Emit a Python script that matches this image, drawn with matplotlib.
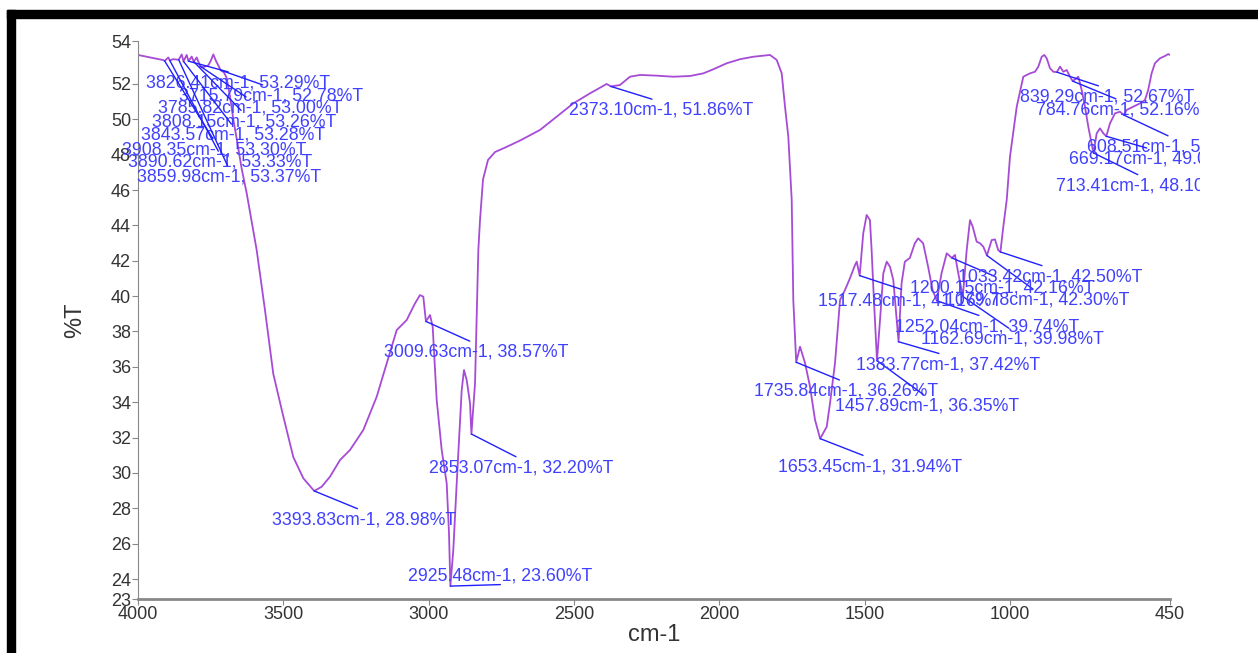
import matplotlib
matplotlib.use("Agg")
import matplotlib.pyplot as plt
from matplotlib.patches import Rectangle
from matplotlib.transforms import Bbox, TransformedBbox, IdentityTransform

plt.rcParams['font.family'] = ['Liberation Sans', 'DejaVu Sans']

# FTIR spectrum (wavenumber cm-1, %T)
wavenumber = [4000, 3958.7, 3913, 3908.35, 3895.8, 3890.62, 3880, 3866.9, 3859.98, 3849.7,
              3843.57, 3832.5, 3826.41, 3815.3, 3808.15, 3798.1, 3785.82, 3775.4, 3758.2, 3749.9,
              3740.9, 3731.7, 3723.8, 3715.79, 3704.2, 3695.1, 3683.5, 3672.2, 3658.4, 3643.3,
              3626.1, 3591.7, 3563.1, 3534.6, 3500.2, 3465.8, 3431.4, 3393.83, 3368.1, 3339.5,
              3305.1, 3270.7, 3224.9, 3178.9, 3144.5, 3110.1, 3075.7, 3047.1, 3030, 3018.6,
              3009.63, 2995.5, 2986.3, 2972.5, 2955.3, 2938.1, 2930.2, 2925.48, 2915.4, 2903.7,
              2886.5, 2878.6, 2869.3, 2857.9, 2853.07, 2840.6, 2834.8, 2829.3, 2823.5, 2813.2,
              2796, 2771.9, 2737.5, 2685.9, 2617.1, 2559.7, 2502.6, 2445.1, 2387.7, 2373.10,
              2342.1, 2307.6, 2273.1, 2215.8, 2158.6, 2101.2, 2055.4, 2021, 1974.9, 1929.2,
              1883.4, 1826, 1802.9, 1785.7, 1774.3, 1763, 1751.3, 1745.8, 1735.84, 1722.7,
              1705.5, 1688.3, 1671.1, 1653.45, 1630.9, 1619.5, 1602.3, 1585.1, 1567.9, 1550.7,
              1533.5, 1527.7, 1517.48, 1505.2, 1493.5, 1482.2, 1476.4, 1468.5, 1457.89, 1447.5,
              1436.2, 1424.5, 1413.2, 1401.8, 1383.77, 1373.4, 1362.1, 1344.9, 1327.7, 1316.3,
              1299.2, 1282, 1266.8, 1252.04, 1235.9, 1218.1, 1200.15, 1189.6, 1178.3, 1162.69,
              1149.4, 1138, 1128.7, 1115, 1103.6, 1092.3, 1079.78, 1063.5, 1052.1, 1040.8,
              1033.42, 1023.4, 1011.7, 1000.4, 977.3, 954.6, 931.6, 914.4, 903, 891.3,
              882.4, 874.1, 862.8, 851.4, 839.29, 828.3, 817, 805.3, 794, 784.76,
              765.4, 753.8, 742.4, 731, 713.41, 702.1, 690.8, 679.4, 669.17, 656.5,
              639.3, 622.2, 608.51, 599.3, 576.6, 553.5, 536.3, 525, 513.3, 501.9,
              484.7, 467.5, 456.2, 450]
transmittance = [53.64, 53.50, 53.35, 53.30, 53.50, 53.33, 53.40, 53.38, 53.37, 53.67,
                 53.28, 53.64, 53.29, 53.55, 53.26, 53.50, 53.00, 52.95, 53.05, 53.30,
                 53.67, 53.30, 53.05, 52.78, 52.65, 52.35, 51.3, 50.0, 48.7, 47.2,
                 45.82, 42.6, 39.2, 35.6, 33.2, 30.9, 29.7, 28.98, 29.22, 29.79,
                 30.73, 31.3, 32.43, 34.31, 36.2, 38.08, 38.65, 39.59, 40.06, 39.97,
                 38.57, 38.93, 38.27, 34.12, 31.3, 29.41, 26.6, 23.60, 25.64, 29.41,
                 34.69, 35.82, 35.25, 33.95, 32.20, 35.09, 38.84, 42.6, 44.3, 46.6,
                 47.7, 48.15, 48.4, 48.8, 49.4, 50.15, 50.9, 51.47, 52.0, 51.86,
                 51.94, 52.41, 52.51, 52.47, 52.41, 52.45, 52.6, 52.83, 53.17, 53.40,
                 53.54, 53.64, 53.36, 52.6, 50.71, 49.02, 45.44, 39.78, 36.26, 37.14,
                 36.22, 34.88, 33.0, 31.94, 32.61, 33.95, 36.22, 39.78, 40.35, 41.02,
                 41.76, 41.95, 41.16, 43.55, 44.59, 44.3, 42.6, 39.78, 36.35, 38.65,
                 41.29, 41.95, 41.66, 40.91, 37.42, 40.72, 41.95, 42.16, 42.99, 43.27,
                 42.99, 41.66, 40.35, 39.74, 41.29, 42.42, 42.16, 42.33, 41.29, 39.98,
                 42.6, 44.3, 43.93, 43.08, 42.99, 42.8, 42.30, 43.17, 43.21, 42.6,
                 42.50, 43.93, 45.44, 47.89, 50.71, 52.41, 52.6, 52.69, 52.98, 53.54,
                 53.64, 53.45, 52.89, 52.69, 52.67, 52.98, 52.69, 52.79, 52.41, 52.16,
                 52.41, 51.66, 50.71, 49.58, 48.10, 49.21, 49.49, 49.21, 49.04, 49.77,
                 50.34, 50.43, 50.24, 50.53, 50.71, 50.90, 51.09, 51.66, 52.6, 53.17,
                 53.45, 53.58, 53.69, 53.64]

# labelled peaks
peak_wn = [3826.41, 3715.79, 3785.82, 3808.15, 3843.57, 3908.35, 3890.62, 3859.98,
           3393.83, 3009.63, 2853.07, 2925.48, 2373.10,
           1735.84, 1653.45, 1457.89, 1383.77, 1252.04, 1162.69, 1517.48, 1079.78,
           1200.15, 1033.42, 839.29, 784.76, 608.51, 669.17, 713.41]
peak_t = [53.29, 52.78, 53.00, 53.26, 53.28, 53.30, 53.33, 53.37,
          28.98, 38.57, 32.20, 23.60, 51.86,
          36.26, 31.94, 36.35, 37.42, 39.74, 39.98, 41.16, 42.30,
          42.16, 42.50, 52.67, 52.16, 50.24, 49.04, 48.10]

# vertical offset (pixels, downwards) of each label centre from its peak
label_dy = [22, 26, 42, 60, 74, 89, 102, 117,
            29, 31, 34, -10, 24,
            29, 28, 45, 23, 26, 43, 25, 45,
            30, 25, 25, 29, 32, 23, 33]

fig = plt.figure(figsize=(12.58, 6.53), dpi=100)
ax = fig.add_axes([138 / 1258, 1 - 599 / 653, 1032 / 1258, 558 / 653])

ax.plot(wavenumber, transmittance, color='#a64bd6', lw=1.3)

clip = TransformedBbox(Bbox.from_extents(0, 0, 1200, 653), IdentityTransform())
for wn, t, dy in zip(peak_wn, peak_t, label_dy):
    rel = (0.5, 0) if dy < 0 else (0.5, 1)
    ann = ax.annotate(f"{wn:.2f}cm-1, {t:.2f}%T", xy=(wn, t), xytext=(50, -dy),
                      textcoords='offset pixels', ha='center', va='center',
                      fontsize=12.8, color='#4040ff',
                      arrowprops=dict(arrowstyle='-', color='#2020ff', lw=1,
                                      shrinkA=0, shrinkB=0, relpos=rel))
    ann.set_clip_on(True)
    ann.set_clip_box(clip)

ymin, ymax = 22.87, 54.43
ax.set_xlim(4000, 450)
ax.set_ylim(ymin, ymax)
ax.set_xticks([4000, 3500, 3000, 2500, 2000, 1500, 1000, 450])
ax.set_yticks([ymin] + list(range(24, 53, 2)) + [ymax])
ax.set_yticklabels(['23'] + [str(v) for v in range(24, 53, 2)] + ['54'])
for s in ['top', 'right']:
    ax.spines[s].set_visible(False)
ax.spines['left'].set_color('#888888')
ax.spines['bottom'].set_color('#888888')
ax.spines['bottom'].set_linewidth(2)
ax.tick_params(colors='#888888', labelcolor='#333333', labelsize=13, length=4, pad=1)
ax.set_xlabel('cm-1', fontsize=17, color='#333333', labelpad=1)
ax.set_ylabel('%T', fontsize=17, color='#333333', labelpad=18)

# black frame along the top and left edge
fig.patches.append(Rectangle((7 / 1258, 0), 8 / 1258, 1 - 10 / 653, transform=fig.transFigure,
                             color='black', zorder=10))
fig.patches.append(Rectangle((7 / 1258, 1 - 18 / 653), 1 - 7 / 1258, 8 / 653,
                             transform=fig.transFigure, color='black', zorder=10))

fig.savefig('out.png', dpi=100)
